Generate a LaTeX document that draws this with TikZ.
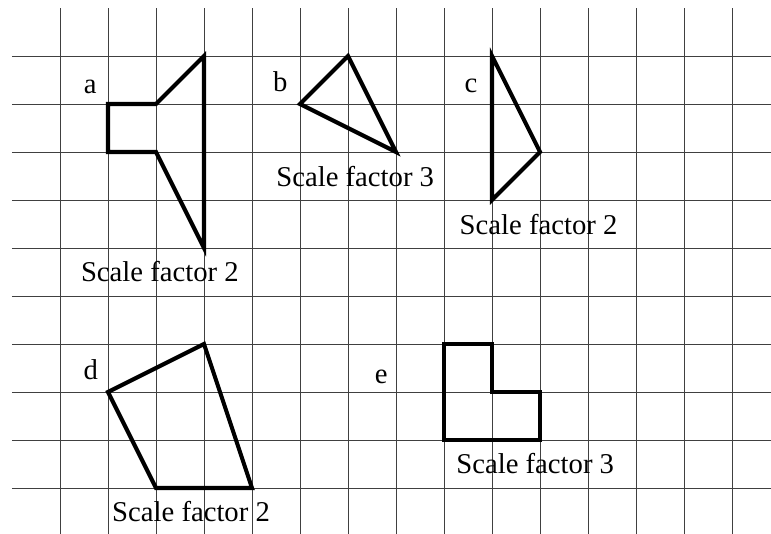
\documentclass[tikz,border=0pt]{standalone}
\usepackage{fontspec}
\setmainfont{Liberation Serif}
\usepackage{tikz}
\usetikzlibrary{positioning}
\tikzset{sq-grid/.style={line width=0.5pt, draw=black!75}}
\tikzset{sq-shape/.style={line width=2.4pt, draw=black}}
\tikzset{sq-label/.style={inner sep=0, anchor=base, font=\fontsize{17}{20}\selectfont}}

\begin{document}
\begin{tikzpicture}[]
            \useasboundingbox (-1.25,-0.9583) rectangle (14.8125,10.1667);

            \foreach \row in {0,...,9}
                \draw[sq-grid] (-1,\row) -- (14.8125,\row);
            \foreach \col in {0,...,14}
                \draw[sq-grid] (\col,-0.9583) -- (\col,10);

            \draw[sq-shape] (1,8) -- (2,8) -- (3,9) -- (3,5) -- (2,7) -- (1,7) -- cycle;
            \draw[sq-shape] (5,8) -- (6,9) -- (7,7) -- cycle;
            \draw[sq-shape] (9,9) -- (10,7) -- (9,6) -- cycle;
            \draw[sq-shape] (1,2) -- (3,3) -- (4,0) -- (2,0) -- cycle;
            \draw[sq-shape] (8,3) -- (9,3) -- (9,2) -- (10,2) -- (10,1) -- (8,1) -- cycle;

            \node[sq-label] (labelA) at (0.63,8.21) {a};
            \node[sq-label] (labelB) at (4.59,8.26) {b};
            \node[sq-label] (labelC) at (8.56,8.24) {c};
            \node[sq-label] (labelD) at (0.64,2.25) {d};
            \node[sq-label] (labelE) at (6.69,2.18) {e};

            \node[sq-label] (scaleA) at (2.08,4.30) {Scale factor 2};
            \node[sq-label] (scaleB) at (6.15,6.28) {Scale factor 3};
            \node[sq-label] (scaleC) at (9.97,5.29) {Scale factor 2};
            \node[sq-label] (scaleD) at (2.73,-0.69) {Scale factor 2};
            \node[sq-label] (scaleE) at (9.90,0.31) {Scale factor 3};

        \end{tikzpicture}
\end{document}
